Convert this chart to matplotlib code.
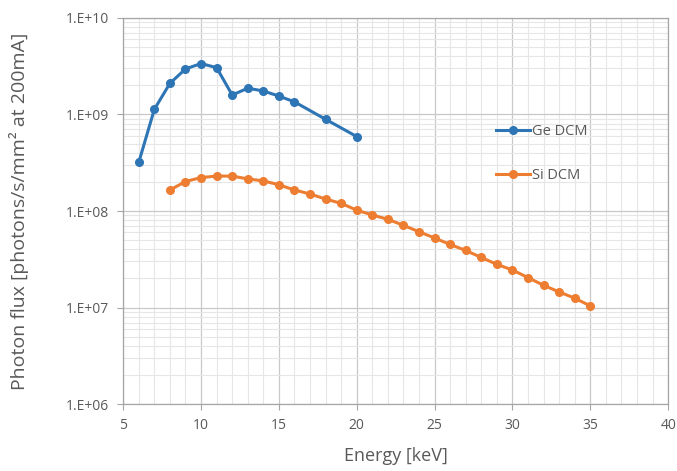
import numpy as np
import matplotlib
matplotlib.use("Agg")
from matplotlib import pyplot as plt
from matplotlib.ticker import FixedLocator, FuncFormatter, MultipleLocator

plt.rcParams['font.family'] = ['Open Sans', 'DejaVu Sans']

# data
ge_energy = [6, 7, 8, 9, 10, 11, 12, 13, 14, 15, 16, 18, 20]
ge_flux = [3.2e8, 1.13e9, 2.1e9, 2.96e9, 3.37e9, 3.05e9, 1.59e9, 1.87e9,
           1.75e9, 1.55e9, 1.35e9, 8.9e8, 5.9e8]

si_energy = list(range(8, 36))
si_flux = [1.65e8, 2.02e8, 2.22e8, 2.3e8, 2.3e8, 2.15e8, 2.05e8, 1.87e8,
           1.65e8, 1.5e8, 1.33e8, 1.2e8, 1.02e8, 9.1e7, 8.2e7, 7.1e7,
           6.1e7, 5.25e7, 4.5e7, 3.9e7, 3.3e7, 2.8e7, 2.45e7, 2.04e7,
           1.7e7, 1.45e7, 1.25e7, 1.04e7]

x_ticks = [5, 10, 15, 20, 25, 30, 35, 40]
y_ticks = [1e6, 1e7, 1e8, 1e9, 1e10]

blue = '#2E75B6'
orange = '#ED7D31'
txt = '#595959'

fig = plt.figure(figsize=(6.77, 4.71), dpi=100)
ax = fig.add_axes([0.182, 0.142, 0.805, 0.820])

ax.plot(ge_energy, ge_flux, color=blue, lw=2.2, marker='o', ms=5.5,
        label='Ge DCM')
ax.plot(si_energy, si_flux, color=orange, lw=2.2, marker='o', ms=5.5,
        label='Si DCM')

ax.set_yscale('log')
ax.set_xlim(5, 40)
ax.set_ylim(1e6, 1e10)
ax.xaxis.set_major_locator(FixedLocator(x_ticks))
ax.xaxis.set_minor_locator(MultipleLocator(1))
ax.yaxis.set_major_locator(FixedLocator(y_ticks))
ax.yaxis.set_major_formatter(FuncFormatter(lambda v, p: '1.E+%02d' % round(np.log10(v))))

ax.grid(which='major', color='#c8c8c8', lw=0.9)
ax.grid(which='minor', color='#e6e6e6', lw=0.8)
ax.set_axisbelow(True)
for s in ax.spines.values():
    s.set_color('#a6a6a6')
    s.set_linewidth(0.9)

ax.tick_params(which='major', length=4, color='#a6a6a6', labelcolor=txt,
               labelsize=10, pad=6)
ax.tick_params(which='minor', length=0)

ax.set_xlabel('Energy [keV]', fontsize=13, color=txt)
ax.set_ylabel('Photon flux [photons/s/mm² at 200mA]', fontsize=14,
              color=txt)
ax.xaxis.set_label_coords(0.5, -0.112)
ax.yaxis.set_label_coords(-0.172, 0.5)

ax.legend(loc='upper left', bbox_to_anchor=(0.66, 0.76), frameon=False,
          fontsize=10.5, labelcolor=txt, labelspacing=2.0, handlelength=2.3,
          handletextpad=0.2)

fig.savefig('out.png', dpi=100)
